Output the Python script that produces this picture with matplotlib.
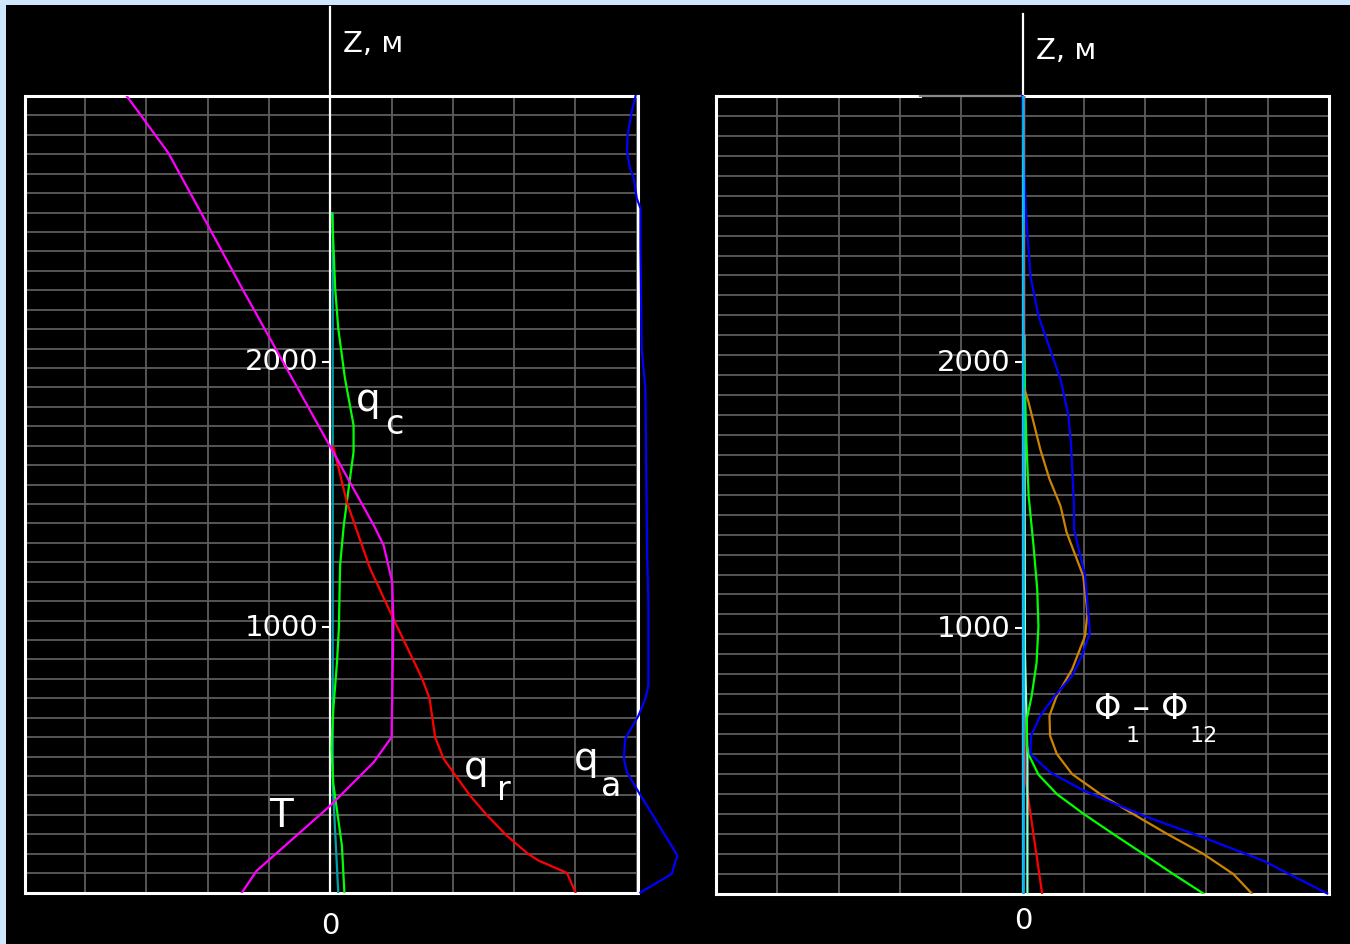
import numpy as np
import matplotlib.pyplot as plt
from matplotlib.patches import Rectangle

# left panel: T, q_c, q_r, q_a profiles (x in relative units, z in m)
T_x = [-3.32, -2.64, -1.97, -1.44, -0.62, 0.0, 0.71, 0.87, 1.01, 1.03, 1.02, 1.00, 0.71, 0.0, -1.20, -1.44]
T_z = [3000, 2785, 2502, 2276, 1936, 1679, 1383, 1308, 1170, 1020, 869, 585, 491, 327, 82, 0]

qc_x = [0.03, 0.08, 0.13, 0.24, 0.38, 0.38, 0.30, 0.22, 0.16, 0.14, 0.11, 0.05, 0.02, 0.05, 0.19, 0.23]
qc_z = [2558, 2276, 2125, 1936, 1760, 1660, 1522, 1383, 1232, 994, 868, 692, 541, 409, 176, 0]

qr_x = [0.05, 0.27, 0.65, 1.03, 1.50, 1.62, 1.71, 1.85, 2.12, 2.28, 2.56, 2.88, 3.23, 3.40, 3.86, 4.00]
qr_z = [1679, 1471, 1220, 1031, 805, 730, 585, 503, 416, 365, 290, 214, 145, 120, 74, 0]

qa_x = [4.98, 4.92, 4.85, 4.84, 4.89, 4.95, 5.00, 5.06, 5.06, 5.08, 5.11, 5.14, 5.17, 5.19, 5.19, 5.14,
        5.03, 4.81, 4.79, 4.84, 5.03, 5.63, 5.66, 5.57, 5.06]
qa_z = [3000, 2942, 2854, 2791, 2728, 2691, 2615, 2577, 2427, 2050, 1974, 1899, 1258, 1094, 780, 730,
        667, 579, 503, 453, 378, 152, 139, 70, 0]

q0_x = [0.04, 0.04, 0.04, 0.13]
q0_z = [2558, 1500, 410, 0]

# right panel: Phi_1 - Phi_12
ph_cyan_x = [0.0, 0.0]
ph_cyan_z = [3000, 0]
ph_red_x = [0.03, 0.03, 0.04, 0.32]
ph_red_z = [3000, 2330, 443, 0]
ph_aqua_x = [0.03, 0.04, 0.08, 0.08]
ph_aqua_z = [2097, 908, 525, 0]
ph_green_x = [0.03, 0.06, 0.10, 0.18, 0.24, 0.26, 0.23, 0.15, 0.07, 0.07, 0.11, 0.26, 0.56, 1.00, 1.48, 1.97, 2.46, 2.95]
ph_green_z = [2000, 1721, 1496, 1308, 1145, 1007, 869, 744, 656, 556, 518, 447, 374, 299, 224, 149, 73, 0]
ph_orange_x = [0.03, 0.10, 0.29, 0.44, 0.62, 0.72, 0.99, 1.06, 1.02, 0.81, 0.56, 0.44, 0.45, 0.56, 0.81,
               1.27, 1.76, 2.36, 2.95, 3.44, 3.74]
ph_orange_z = [1900, 1847, 1671, 1559, 1458, 1358, 1195, 1057, 969, 844, 744, 669, 593, 525, 449,
               374, 305, 224, 149, 73, 0]
ph_blue_x = [0.0, 0.03, 0.06, 0.13, 0.26, 0.45, 0.62, 0.75, 0.79, 0.84, 0.84, 1.02, 1.10, 0.97, 0.81, 0.53,
             0.29, 0.14, 0.13, 0.45, 1.00, 1.97, 2.95, 3.93, 4.97]
ph_blue_z = [3000, 2699, 2549, 2323, 2173, 2047, 1935, 1797, 1697, 1458, 1371, 1195, 982, 894, 819, 744,
             669, 593, 525, 456, 387, 293, 211, 123, 0]

z_ticks = [1000, 2000]

W, H = 1350, 945
fig = plt.figure(figsize=(13.5, 9.45), dpi=100)
fig.patch.set_facecolor('#cfe7fc')
fig.add_artist(Rectangle((6 / W, 0), 1, (H - 6) / H, transform=fig.transFigure,
                         facecolor='black', edgecolor='none', zorder=-1))

ax1 = fig.add_axes([25 / W, (H - 893.5) / H, 613 / W, 796.5 / H])
ax2 = fig.add_axes([716 / W, (H - 894.5) / H, 613 / W, 797.5 / H])

gridc = '#5c5c5c'
for ax, xl, hz in [(ax1, (-4.98, 5.02), np.linspace(0, 3000, 42)),
                   (ax2, (-5, 5), np.arange(0, 3001, 75))]:
    ax.set_facecolor('black')
    ax.set_xlim(xl)
    ax.set_ylim(0, 3000)
    ax.set_xticks([])
    ax.set_yticks([])
    for s in ax.spines.values():
        s.set_color('white')
        s.set_linewidth(2.2)
    for v in range(-4, 5 if ax is ax2 else 6):
        ax.axvline(v, color=gridc, lw=1.3, zorder=1)
    for h in hz[1:-1]:
        ax.axhline(h, color=gridc, lw=1.3, zorder=1)
    for zt in z_ticks:
        ax.plot([0], [zt], marker=0, ms=6, mew=1.5, color='white', zorder=4)
        ax.annotate(str(zt), xy=(0, zt), xytext=(-12, 0), textcoords='offset pixels',
                    ha='right', va='center', color='white', fontsize=21)

# right box: top border has a grey stretch near the axis
ax2.spines['top'].set_visible(False)
ax2.plot([0, 204 / 613], [1, 1], transform=ax2.transAxes, color='white', lw=2.2, clip_on=False, zorder=3)
ax2.plot([204 / 613, 309 / 613], [1, 1], transform=ax2.transAxes, color='#8a8a8a', lw=1.6, clip_on=False, zorder=3)
ax2.plot([309 / 613, 1], [1, 1], transform=ax2.transAxes, color='white', lw=2.2, clip_on=False, zorder=3)

ax1.axvline(0, ymin=0, ymax=(893.5 - 8) / 796.5, color='white', lw=1.6, clip_on=False, zorder=3)
ax2.axvline(0, ymin=0, ymax=(894.5 - 15) / 797.5, color='white', lw=1.6, clip_on=False, zorder=3)

ax1.annotate('Z, м', xy=(0, 3000), xytext=(13, 53), textcoords='offset pixels',
             ha='left', va='center', color='white', fontsize=21)
ax2.annotate('Z, м', xy=(0, 3000), xytext=(14, 46), textcoords='offset pixels',
             ha='left', va='center', color='white', fontsize=21)
ax1.annotate('0', xy=(0, 0), xytext=(0, -33), textcoords='offset pixels',
             ha='center', va='center', color='white', fontsize=21)
ax2.annotate('0', xy=(0, 0), xytext=(1, -27), textcoords='offset pixels',
             ha='center', va='center', color='white', fontsize=21)

lw = 1.6
ax1.plot(q0_x, q0_z, color='#00a0a8', lw=lw, zorder=5)
ax1.plot(qc_x, qc_z, color='#00ff00', lw=lw, zorder=5)
ax1.plot(qr_x, qr_z, color='#ff0000', lw=lw, zorder=5)
ax1.plot(T_x, T_z, color='#ff00ff', lw=lw, zorder=6)
ax1.plot(qa_x, qa_z, color='#0000ff', lw=lw, zorder=6, clip_on=False)

ax2.plot(ph_red_x, ph_red_z, color='#ff0000', lw=lw, zorder=5)
ax2.plot(ph_aqua_x, ph_aqua_z, color='#8effd0', lw=lw, zorder=5)
ax2.plot(ph_green_x, ph_green_z, color='#00ff00', lw=lw, zorder=5)
ax2.plot(ph_orange_x, ph_orange_z, color='#cc8400', lw=lw, zorder=5)
ax2.plot(ph_blue_x, ph_blue_z, color='#0000ff', lw=lw, zorder=5, clip_on=False)
ax2.plot(ph_cyan_x, ph_cyan_z, color='#00b8f0', lw=lw + 0.4, zorder=6)

lab = dict(color='white', ha='left', va='baseline', zorder=8)
ax1.text(0.42, 1817, 'q', fontsize=28, **lab)
ax1.text(0.90, 1729, 'c', fontsize=24, **lab)
ax1.text(2.18, 433, 'q', fontsize=28, **lab)
ax1.text(2.72, 353, 'r', fontsize=24, **lab)
ax1.text(3.97, 464, 'q', fontsize=28, **lab)
ax1.text(4.42, 368, 'a', fontsize=24, **lab)
ax1.text(-0.99, 252, 'T', fontsize=28, **lab)

ax2.text(1.17, 660, 'Φ – Φ', fontsize=25, **lab)
ax2.text(1.68, 575, '1', fontsize=16, **lab)
ax2.text(2.72, 575, '12', fontsize=16, **lab)

fig.savefig('out.png', dpi=100, facecolor=fig.get_facecolor())
